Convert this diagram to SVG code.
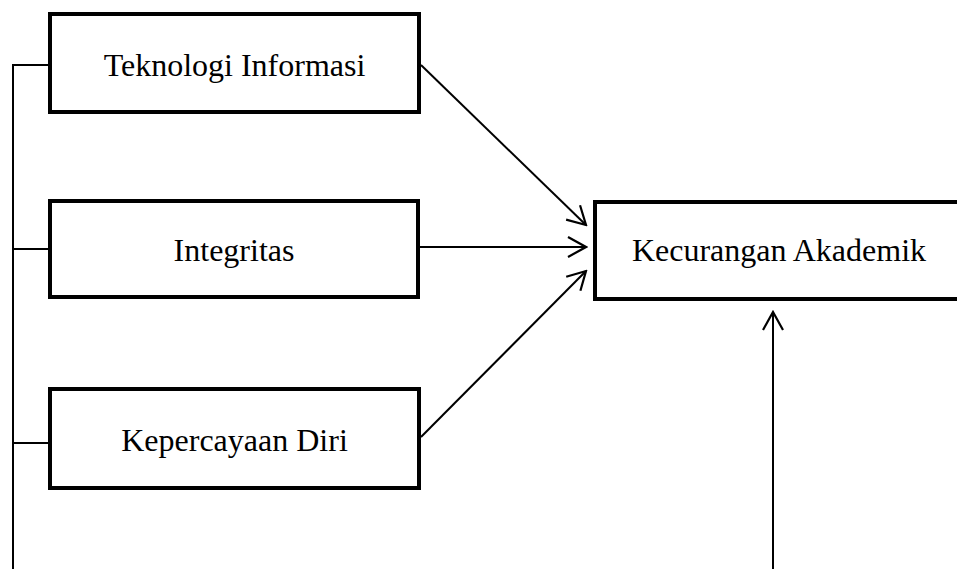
<svg xmlns="http://www.w3.org/2000/svg" width="957" height="569" viewBox="0 0 957 569">
<style>
.box{fill:#fff;stroke:#000;stroke-width:4}
.lbl{font-family:"Liberation Serif","Times New Roman",serif;font-size:32px;fill:#000;text-anchor:middle}
.ln{fill:none;stroke:#000;stroke-width:2}
</style>
<defs>
<marker id="ah" viewBox="-22 -12 24 24" markerWidth="24" markerHeight="24" refX="0" refY="0" orient="auto" markerUnits="userSpaceOnUse">
<path d="M-18,-10 L0,0 L-18,10" fill="none" stroke="#000" stroke-width="2.2"/>
</marker>
</defs>
<rect width="957" height="569" fill="#fff"/>
<g id="connectors">
<polyline class="ln" points="13,569 13,65 50,65"/>
<line class="ln" x1="13" y1="249" x2="50" y2="249"/>
<line class="ln" x1="13" y1="443" x2="50" y2="443"/>
<line class="ln" x1="421" y1="65" x2="586" y2="225" marker-end="url(#ah)"/>
<line class="ln" x1="419" y1="247" x2="586" y2="247" marker-end="url(#ah)"/>
<line class="ln" x1="421" y1="437" x2="586" y2="271" marker-end="url(#ah)"/>
<line class="ln" x1="773" y1="569" x2="773" y2="312" marker-end="url(#ah)"/>
</g>
<g id="teknologi">
<rect class="box" x="50" y="14" width="369" height="98"/>
<text class="lbl" x="234.5" y="76">Teknologi Informasi</text>
</g>
<g id="integritas">
<rect class="box" x="50" y="201" width="368" height="96"/>
<text class="lbl" x="234" y="261">Integritas</text>
</g>
<g id="kepercayaan">
<rect class="box" x="50" y="389" width="369" height="99"/>
<text class="lbl" x="234.5" y="451">Kepercayaan Diri</text>
</g>
<g id="kecurangan">
<rect class="box" x="595" y="202" width="370" height="97"/>
<text class="lbl" x="779" y="261">Kecurangan Akademik</text>
</g>
</svg>
